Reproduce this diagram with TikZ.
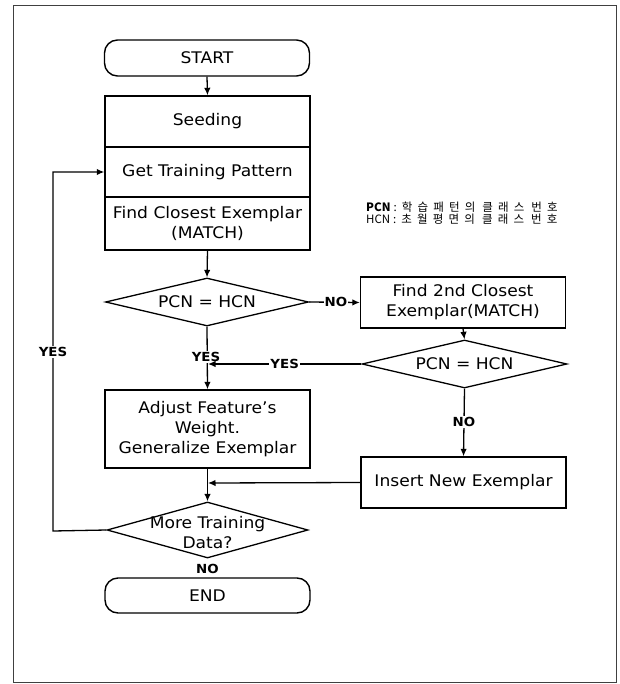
\documentclass[tikz,border=0pt]{standalone}
\usepackage{fontspec}
\setmainfont{DejaVu Sans}[FakeStretch=1.07]
\newfontfamily\kr{Noto Sans CJK KR}[LetterSpace=45]
\newfontfamily\krlatin{Noto Sans CJK KR}
\newcommand\krgap{\hspace{7pt}}
\usetikzlibrary{shapes.geometric,arrows.meta}

\begin{document}
\begin{tikzpicture}[x=1pt,y=-1pt,
  every node/.style={font=\fontsize{16}{20}\selectfont, inner sep=0pt},
  proc/.style={draw, line width=1.4pt, minimum width=205pt, align=center},
  term/.style={proc, rounded corners=13pt, minimum height=36pt},
  decision/.style={draw, diamond, line width=1.3pt},
  lbl/.style={fill=white, font=\fontsize{12.5}{14}\selectfont\bfseries, inner sep=1pt},
  flow/.style={line width=1.3pt, -{Latex[length=7.5pt,width=6.5pt]}},
  frame/.style={draw=black!75, line width=0.8pt}
]
\useasboundingbox (0,0) rectangle (619,684);
\draw[frame] (13,5) rectangle (616,682);

% main column
\node[term] (start) at (207,58) {START};
\node[proc, minimum height=51pt] (seed) at (207.5,121.5) {Seeding};
\node[proc, minimum height=50pt] (gtp) at (207.5,172) {Get Training Pattern};
\node[proc, minimum height=53pt] (fce) at (207.5,223.5) {Find Closest Exemplar\\(MATCH)};
\node[decision, minimum width=203pt, minimum height=48pt] (d1) at (207,302) {};
\node (d1t) at (207,302) {PCN = HCN};
\node[proc, minimum height=78pt] (adj) at (207.5,429) {Adjust Feature's\\Weight.\\Generalize Exemplar};
\node[decision, minimum width=201pt, minimum height=56pt] (d3) at (207.5,530) {};
\node[align=center] (d3t) at (207.5,533) {More Training\\Data?};
\node[term, minimum height=35pt] (end) at (207.5,595.5) {END};

% second column
\node[proc, minimum height=51pt] (find2) at (463,302.5) {Find 2nd Closest\\Exemplar(MATCH)};
\node[decision, minimum width=205pt, minimum height=48pt] (d2) at (464.5,364) {};
\node (d2t) at (464.5,364) {PCN = HCN};
\node[proc, minimum height=51pt] (ins) at (463.5,482.5) {Insert New Exemplar};

% legend
\node[anchor=north west, align=left, font=\krlatin\fontsize{11.5}{12}\selectfont] (legend) at (366,202)
  {{\bfseries PCN}\hspace{3pt}:\hspace{5pt}{\kr 학습패턴의\krgap 클래스\krgap 번호}\\
   HCN\hspace{3pt}:\hspace{5pt}{\kr 초월평면의\krgap 클래스\krgap 번호}};

% junction points on the main column
\coordinate (j1) at (208,364);
\coordinate (j2) at (208,483);
\coordinate (lp) at (53,531);

% connectors
\draw[flow] (start.south) -- (seed.north);
\draw[flow] (fce.south) -- (d1.north);
\draw[flow] (d1.east) -- node[lbl, pos=0.53] {NO} (find2.west);
\draw[flow] (find2.south) -- (d2.north);
\draw[flow] (d1.south) -- (adj.north);
\node[lbl] (yes1) at (206,357) {YES};
\draw[flow] (d2.west) -- node[lbl, pos=0.5] {YES} (j1);
\draw[flow] (d2.south) -- node[lbl, pos=0.49] {NO} (ins.north);
\draw[flow] (adj.south) -- (d3.north);
\draw[flow] (ins.west) -- (j2);
\draw[flow] (d3.west) -- (lp) |- (gtp.west);
\node[lbl] (yes3) at (53,352) {YES};
\node[lbl, fill=none] (no3) at (207.5,569) {NO};
\end{tikzpicture}
\end{document}
